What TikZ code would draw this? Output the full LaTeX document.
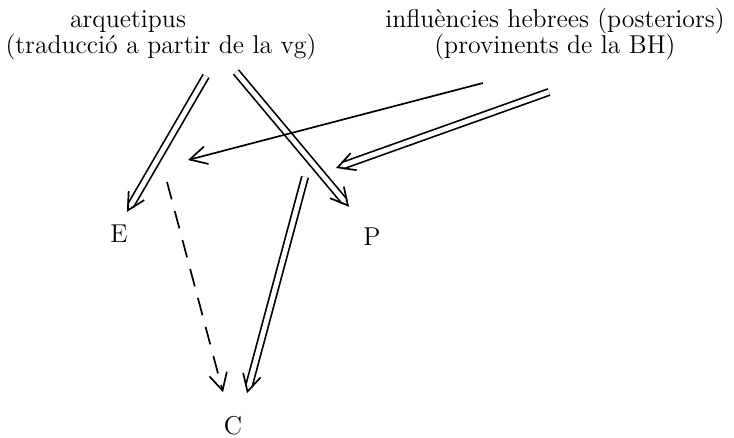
\documentclass[tikz,border=0pt]{standalone}
\usetikzlibrary{arrows.meta}

\begin{document}
\begin{tikzpicture}[x=0.5pt, y=-0.5pt,
  lbl/.style={inner sep=0pt, align=center, font=\fontsize{12.9}{13}\selectfont},
  tip/.style={-{Straight Barb[length=8.5pt, width=9pt]}},
  dbl/.style={double, double distance=2.4pt, line width=0.85pt, shorten >=3.5pt,
    postaction={draw, shorten >=-3.5pt, dash pattern=on 0pt off 1000pt, tip}},
  sgl/.style={line width=0.85pt, tip},
  dsh/.style={sgl, dash pattern=on 9pt off 6pt}]
\useasboundingbox (0,0) rectangle (734,438);
\node[lbl, anchor=south] (arq) at (161,60) {arquetipus\hspace*{33pt}\\(traducció a partir de la vg)};
\node[lbl, anchor=south] (infl) at (555,60) {influències hebrees (posteriors)\\(provinents de la BH)};
\node[lbl] (E) at (119,234) {E};
\node[lbl] (P) at (372,237) {P};
\node[lbl] (C) at (233,426) {C};
% on arriben les influencies
\coordinate (infE) at (188,160);
\coordinate (infP) at (336,168);
\draw[dbl] ([shift={(45,16)}]arq.south) -- ([shift={(8,-13)}]E.north);
\draw[dbl] ([shift={(75,12)}]arq.south) -- ([shift={(-23,-21)}]P.north);
\draw[sgl] ([shift={(-72,23)}]infl.south) -- (infE);
\draw[dbl] ([shift={(-6,32)}]infl.south) -- (infP);
\draw[dsh] ([shift={(48,-52)}]E.center) -- ([shift={(-10,-24)}]C.north);
\draw[dbl] ([shift={(-67,-60)}]P.center) -- ([shift={(14,-23)}]C.north);
\end{tikzpicture}
\end{document}
